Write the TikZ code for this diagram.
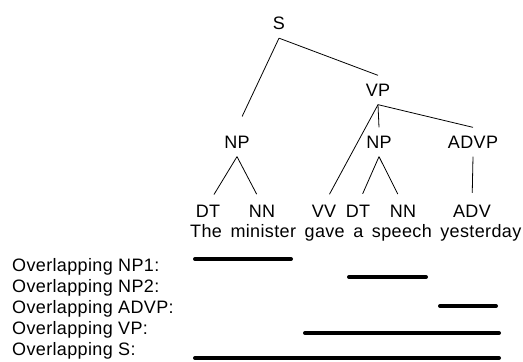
\documentclass[tikz,border=0pt]{standalone}
\usepackage{fontspec}
\setmainfont{Liberation Sans}[LetterSpace=2]
\usepackage{tikz}
\tikzset {
  x=1pt, y=-1pt,
  % phrase and tag labels of the tree
  main/.style = {inner xsep=2pt, inner ysep=8pt, text height=12.9pt, text depth=0pt},
  tag/.style = {main, inner ysep=0pt},
  % tree edges
  branch/.style = {line width=0.8pt},
  totag/.style = {branch, shorten >=11.5pt},
  % overlap bars below the sentence
  span/.style = {line width=4pt, line cap=round},
  rowlabel/.style = {anchor=base west, inner sep=0pt},
}

\begin{document}
\begin{tikzpicture}[font=\fontsize{18}{21}\selectfont]
  \useasboundingbox (0,0) rectangle (523,362);

  \node[main] (S) at (279,23.5) {S};
  \node[main] (VP) at (378,90) {VP};
  \node[main] (NP1) at (237,142) {NP};
  \node[main] (NP2) at (379,142) {NP};
  \node[main] (ADVP) at (473,142) {ADVP};

  \node[tag] (DT1) at (208,211) {DT};
  \node[tag] (NN1) at (262,211) {NN};
  \node[tag] (VV) at (324,211) {VV};
  \node[tag] (DT2) at (358,211) {DT};
  \node[tag] (NN2) at (403,211) {NN};
  \node[tag] (ADV) at (472,211) {ADV};

  \node[rowlabel] (words) at (190,237)
    {\spaceskip=8.6pt plus 1pt The minister gave a speech yesterday};

  \draw[branch, shorten >=12pt] (S.south) -- (NP1.north);
  \draw[branch] (S.south) -- (VP.north);
  \draw[totag] (VP.south) -- (VV.north);
  \draw[branch] (VP.south) -- (NP2.north);
  \draw[branch] (VP.south) -- (ADVP.north);
  \draw[totag] (NP1.south) -- (DT1.north);
  \draw[totag] (NP1.south) -- (NN1.north);
  \draw[totag] (NP2.south) -- (DT2.north);
  \draw[totag] (NP2.south) -- (NN2.north);
  \draw[totag] (ADVP.south) -- (ADV.north);

  % rows: name / label baseline / bar start / bar end / bar height
  \foreach \n/\t/\a/\b/\h in {NP1/271/195/291/259, NP2/292/349/426/277,
                              ADVP/313/440/496/306, VP/334/305/499/333,
                              S/355/195/499/358} {
    \node[rowlabel] (row-\n) at (12,\t) {Overlapping \n:};
    \coordinate (\n-l) at (\a,\h);
    \coordinate (\n-r) at (\b,\h);
    \draw[span] (\n-l) -- (\n-r);
  }
\end{tikzpicture}
\end{document}
